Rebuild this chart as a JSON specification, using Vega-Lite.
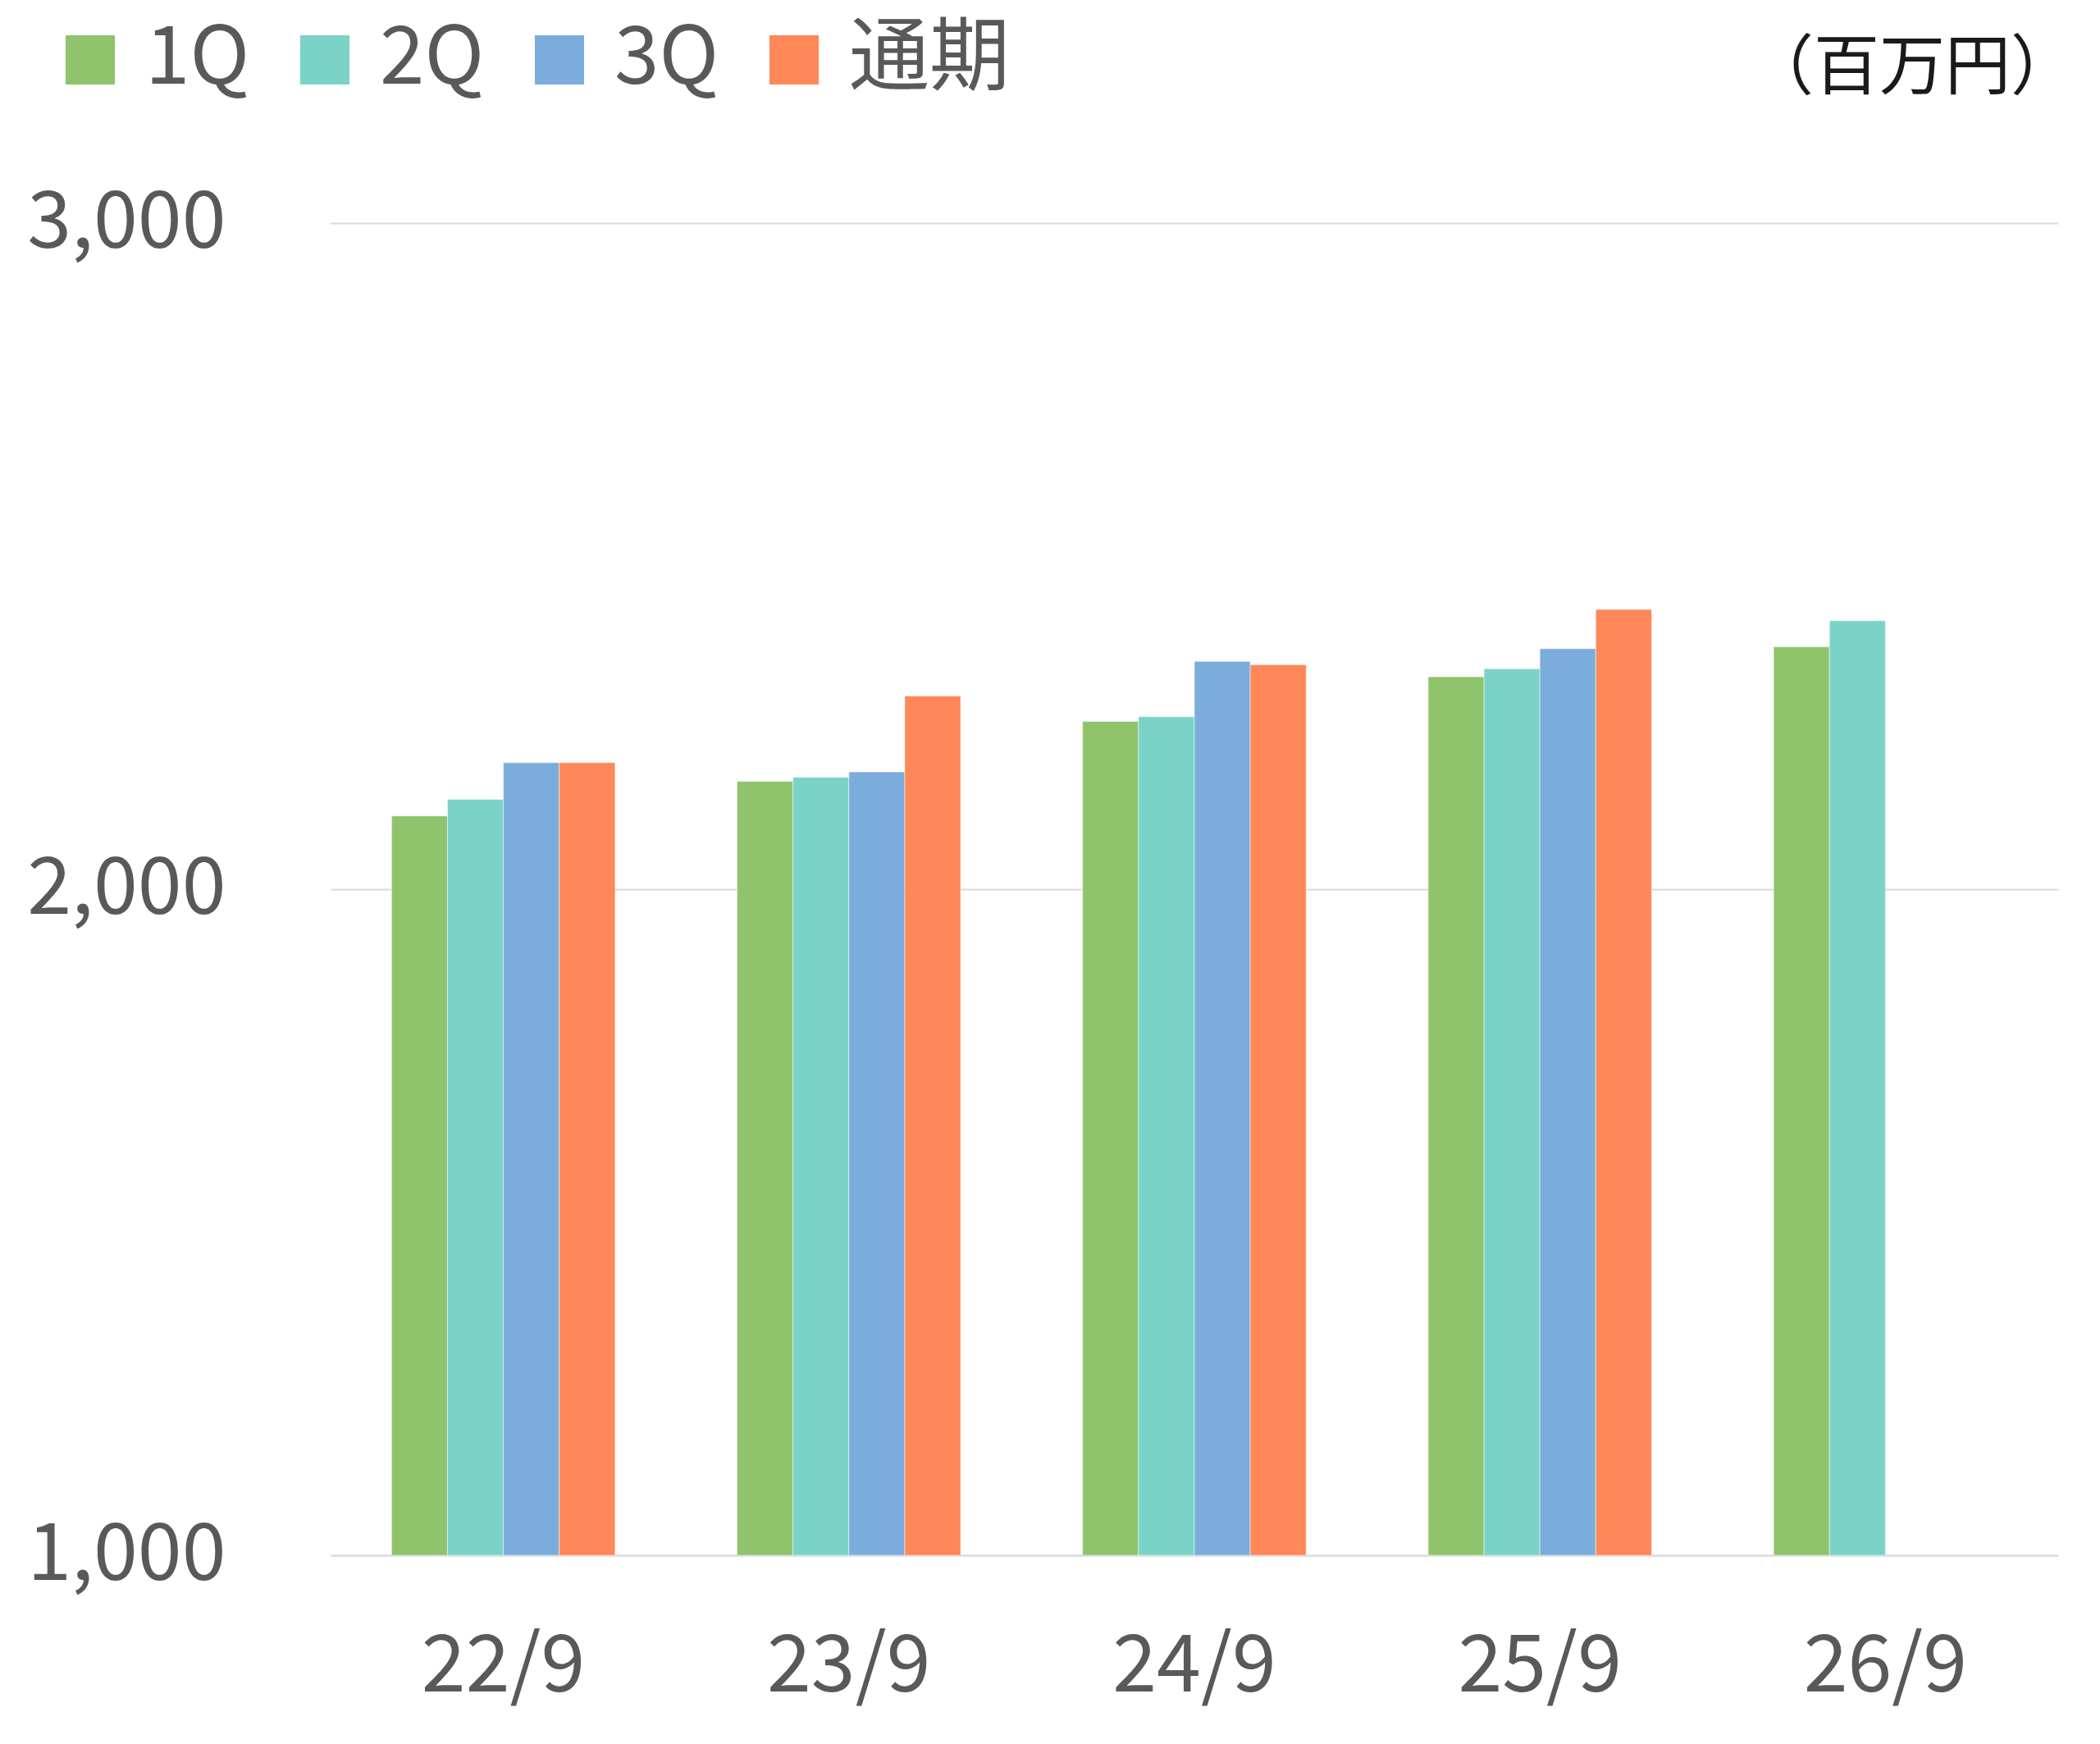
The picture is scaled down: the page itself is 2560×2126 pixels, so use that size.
{
  "$schema": "https://vega.github.io/schema/vega-lite/v6.json",
  "width": 2106,
  "height": 1624,
  "autosize": {"type": "none"},
  "padding": {"left": 403, "top": 272, "right": 51, "bottom": 230},
  "background": "#ffffff",
  "title": {
    "text": "（百万円）",
    "anchor": "end",
    "frame": "group",
    "orient": "top",
    "baseline": "middle",
    "offset": 0,
    "dy": 140,
    "dx": 22,
    "font": "Noto Sans CJK JP",
    "fontSize": 80,
    "fontWeight": "normal",
    "color": "#1a1a1a"
  },
  "data": {
    "values": [
      {"period": "22/9", "quarter": "1Q", "value": 2110},
      {"period": "22/9", "quarter": "2Q", "value": 2135},
      {"period": "22/9", "quarter": "3Q", "value": 2190},
      {"period": "22/9", "quarter": "通期", "value": 2190},
      {"period": "23/9", "quarter": "1Q", "value": 2162},
      {"period": "23/9", "quarter": "2Q", "value": 2168},
      {"period": "23/9", "quarter": "3Q", "value": 2176},
      {"period": "23/9", "quarter": "通期", "value": 2290},
      {"period": "24/9", "quarter": "1Q", "value": 2252},
      {"period": "24/9", "quarter": "2Q", "value": 2259},
      {"period": "24/9", "quarter": "3Q", "value": 2342},
      {"period": "24/9", "quarter": "通期", "value": 2337},
      {"period": "25/9", "quarter": "1Q", "value": 2319},
      {"period": "25/9", "quarter": "2Q", "value": 2331},
      {"period": "25/9", "quarter": "3Q", "value": 2361},
      {"period": "25/9", "quarter": "通期", "value": 2420},
      {"period": "26/9", "quarter": "1Q", "value": 2364},
      {"period": "26/9", "quarter": "2Q", "value": 2403}
    ]
  },
  "mark": {"type": "bar", "stroke": "#ffffff", "strokeWidth": 1, "strokeOpacity": 0.5},
  "encoding": {
    "x": {
      "field": "period",
      "type": "nominal",
      "sort": ["22/9", "23/9", "24/9", "25/9", "26/9"],
      "scale": {"paddingInner": 0.353, "paddingOuter": 0.1765},
      "axis": {
        "title": null,
        "labelAngle": 0,
        "labelFont": "Noto Sans CJK JP",
        "labelFontSize": 97,
        "labelColor": "#595959",
        "labelPadding": 88,
        "labelLimit": 600,
        "domain": true,
        "domainColor": "#d9d9d9",
        "domainWidth": 2,
        "ticks": false
      }
    },
    "xOffset": {
      "field": "quarter",
      "sort": ["1Q", "2Q", "3Q", "通期"],
      "scale": {"paddingInner": 0, "paddingOuter": 0}
    },
    "y": {
      "field": "value",
      "type": "quantitative",
      "scale": {"domain": [1000, 3000], "zero": false, "nice": false},
      "axis": {
        "title": null,
        "values": [1000, 2000, 3000],
        "format": ",.0f",
        "labelFont": "Noto Sans CJK JP",
        "labelFontSize": 97,
        "labelColor": "#595959",
        "labelPadding": 128,
        "labelLimit": 600,
        "domain": false,
        "ticks": false,
        "grid": true,
        "gridColor": "#d9d9d9",
        "gridWidth": 2
      }
    },
    "y2": {"datum": 1000},
    "color": {
      "field": "quarter",
      "type": "nominal",
      "scale": {
        "domain": ["1Q", "2Q", "3Q", "通期"],
        "range": ["#8fc46c", "#7bd3c8", "#7aaddb", "#ff8758"]
      },
      "legend": {
        "title": null,
        "orient": "none",
        "direction": "horizontal",
        "legendX": -342,
        "legendY": -248,
        "symbolType": "square",
        "symbolSize": 3600,
        "symbolStrokeWidth": 0,
        "labelFont": "Noto Sans CJK JP",
        "labelFontSize": 98,
        "labelColor": "#595959",
        "labelOffset": 18,
        "columnPadding": 42,
        "labelLimit": 400
      }
    }
  },
  "config": {
    "view": {"stroke": null},
    "legend": {"symbolOpacity": 1}
  }
}
